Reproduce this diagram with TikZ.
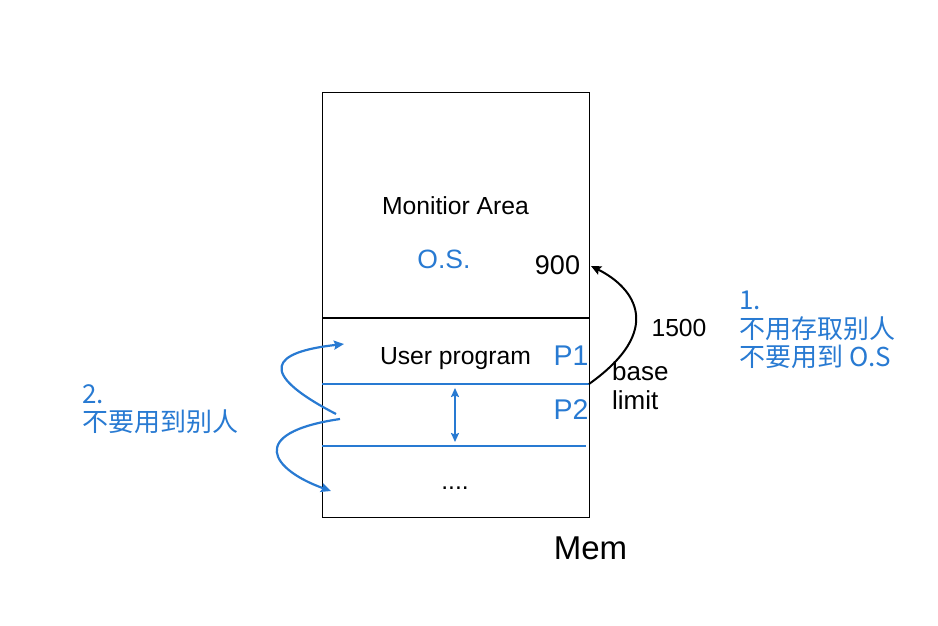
\documentclass[tikz,border=0pt]{standalone}
\usepackage{fontspec}
\setmainfont{Liberation Sans}
\newfontfamily\cjk{Noto Sans CJK SC}
\usetikzlibrary{arrows.meta}
\definecolor{myblue}{RGB}{40,122,210}
\tikzset{
  lbl/.style={inner sep=0pt, anchor=base, font=\fontsize{24.7}{28}\selectfont},
  blbl/.style={inner sep=0pt, anchor=base, text=myblue, font=\fontsize{27}{30}\selectfont},
  note/.style={inner sep=0pt, anchor=north west, text=myblue, align=left, font=\cjk\fontsize{26}{28.5}\selectfont},
  bline/.style={draw=myblue, line width=2.8pt},
  barrow/.style={draw=myblue, line width=2.2pt, -{Stealth[length=10pt,width=9pt,inset=1.5pt]}},
}
\begin{document}
\begin{tikzpicture}[x=1pt,y=-1pt]
\useasboundingbox (0,0) rectangle (938,626);
\node[draw, line width=1.3pt, minimum width=267pt, minimum height=425pt, inner sep=0pt, anchor=north west] (mem) at (322,92) {};
\coordinate (divL) at (322,318);
\coordinate (divR) at (589,318);
\draw[line width=1.3pt] (divL) -- (divR);
\coordinate (b1L) at (322,384);
\coordinate (b1R) at (589,384);
\coordinate (b2L) at (322,446);
\coordinate (b2R) at (586,446);
\draw[bline] (b1L) -- (b1R);
\draw[bline] (b2L) -- (b2R);
\coordinate (da) at (455,388);
\coordinate (db) at (455,442);
\draw[draw=myblue, line width=2.4pt, {Stealth[length=9pt,width=8pt,inset=1.5pt]}-{Stealth[length=9pt,width=8pt,inset=1.5pt]}] (da) -- (db);

\node[lbl] (mon) at (455.5,214) {Monitior Area};
\node[blbl, font=\fontsize{26.5}{30}\selectfont] (os) at (444,268) {O.S.};
\node[lbl, font=\fontsize{27}{30}\selectfont] (n900) at (557.5,274) {900};
\node[lbl] (n1500) at (679,336) {1500};
\node[lbl] (up) at (455.5,364) {User program};
\node[blbl, font=\fontsize{28.5}{30}\selectfont] (p1) at (571,365) {P1};
\node[blbl, font=\fontsize{28.5}{30}\selectfont] (p2) at (571,419) {P2};
\node[lbl, anchor=base west, font=\fontsize{26}{30}\selectfont] (base) at (612,380) {base};
\node[lbl, anchor=base west, font=\fontsize{26}{30}\selectfont] (limit) at (612,409) {limit};
\node[lbl] (dots) at (455,489) {....};
\node[lbl, font=\fontsize{33}{36}\selectfont] (memlbl) at (590.5,559) {Mem};

\node[note] (note1) at (739,291) {1.\\不用存取别人\\不要用到 O.S};
\node[note] (note2) at (82,384) {2.\\不要用到别人};

\coordinate (ks) at (589,384);
\coordinate (ke) at (591,266);
\draw[line width=2pt, -{Stealth[length=10pt,width=9pt,inset=1.5pt]}] (ks) .. controls (665,330) and (635,288) .. (ke);

\coordinate (w1s) at (336,414);
\coordinate (w1e) at (344,344);
\draw[barrow] (w1s) .. controls (255,372) and (272,352) .. (w1e);
\coordinate (w2s) at (340,419);
\coordinate (w2e) at (331,491);
\draw[barrow] (w2s) .. controls (245,433) and (272,470) .. (w2e);
\end{tikzpicture}
\end{document}
